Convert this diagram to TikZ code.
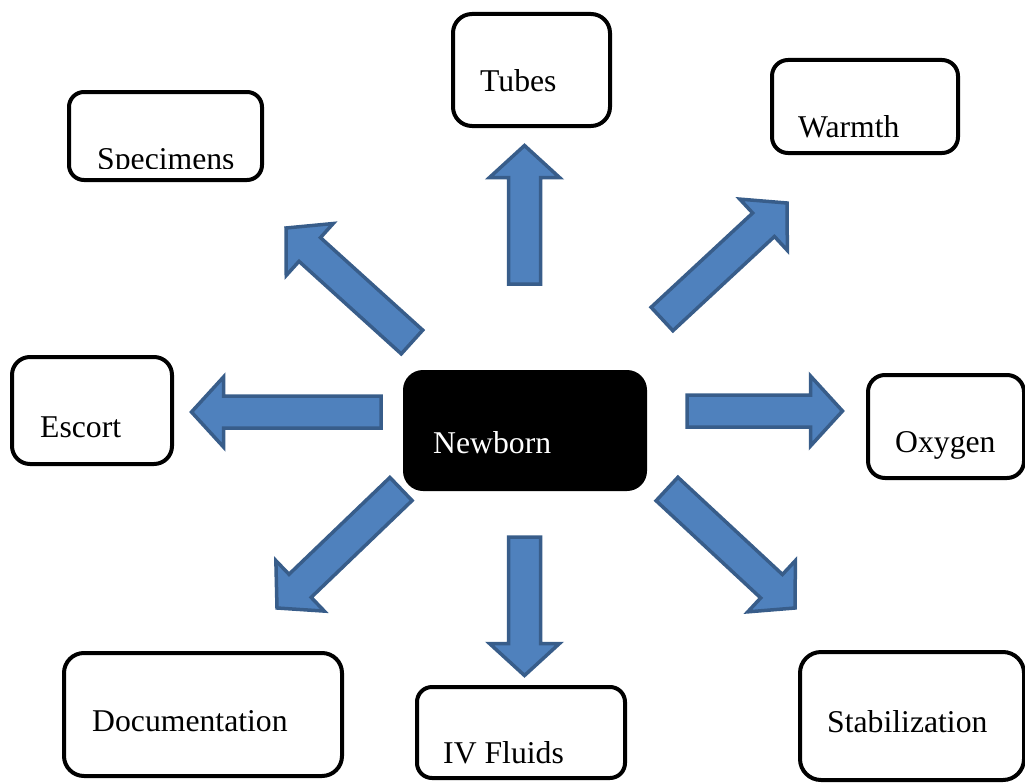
\documentclass[tikz,border=0pt]{standalone}
\usepackage{fontspec}
\setmainfont{Liberation Serif}
\usepackage{tikz}
\usetikzlibrary{calc}
\definecolor{arrowfill}{HTML}{4F81BD}
\definecolor{arrowline}{HTML}{385D8A}

% block arrow from tail #1 to tip #2
\newcommand{\blockarrow}[2]{%
  \coordinate (hb) at ($(#2)!32pt!(#1)$);
  \draw[bigarrow] ($(#1)!16pt!90:(#2)$) -- ($(hb)!16pt!90:(#2)$) -- ($(hb)!35pt!90:(#2)$) -- (#2)
    -- ($(hb)!35pt!-90:(#2)$) -- ($(hb)!16pt!-90:(#2)$) -- ($(#1)!16pt!-90:(#2)$) -- cycle;
}

\begin{document}
\begin{tikzpicture}[x=1pt,y=-1pt,
  every node/.style={font=\fontsize{31.7}{38}\selectfont},
  box/.style={draw,line width=4pt,rounded corners=17pt},
  word/.style={anchor=base west,inner sep=0pt},
  bigarrow/.style={fill=arrowfill,draw=arrowline,line width=3.5pt,line join=miter}]
  \useasboundingbox (0,0) rectangle (1025,784);
  \clip (0,0) rectangle (1025,784);

  % boxes
  \node[box,minimum width=157pt,minimum height=112pt,rounded corners=19pt] (tubes) at (531.5,70) {};
  \node[box,minimum width=186pt,minimum height=93pt,rounded corners=16pt] (warmth) at (865,106.5) {};
  \node[box,minimum width=193pt,minimum height=88pt,rounded corners=15pt] (specimens) at (165.5,136) {};
  \node[box,minimum width=160pt,minimum height=107pt,rounded corners=18pt] (escort) at (92,410.5) {};
  \node[box,minimum width=156pt,minimum height=103pt] (oxygen) at (946,426.5) {};
  \node[box,minimum width=278pt,minimum height=123pt,rounded corners=20pt] (docs) at (203,714.5) {};
  \node[box,minimum width=208pt,minimum height=91pt,rounded corners=15pt] (fluids) at (521,732.5) {};
  \node[box,minimum width=224pt,minimum height=128pt,rounded corners=21pt] (stab) at (912,716) {};
  \node[fill=black,minimum width=244pt,minimum height=121pt,rounded corners=20pt] (newborn) at (525,430.5) {};

  % labels
  \node[word] (tubesT) at (480,92) {Tubes};
  \node[word] (warmthT) at (798,137) {Warmth};
  \begin{scope}
    \clip (60,90) rectangle (270,168);
    \node[word] (specimensT) at (97,169) {Specimens};
  \end{scope}
  \node[word] (escortT) at (40,437) {Escort};
  \node[word] (oxygenT) at (895,452) {Oxygen};
  \node[word] (docsT) at (92,731) {Documentation};
  \node[word] (fluidsT) at (443,763) {IV Fluids};
  \node[word] (stabT) at (827,732) {Stabilization};
  \node[word,text=white] (newbornT) at (433,453) {Newborn};

  % arrow ends
  \coordinate (upS) at (524.5,284);   \coordinate (upE) at (524.5,145.5);
  \coordinate (downS) at (524.5,537); \coordinate (downE) at (524.5,675.5);
  \coordinate (leftS) at (381,412);   \coordinate (leftE) at (191.5,412);
  \coordinate (rightS) at (687,411);  \coordinate (rightE) at (842.5,411);
  \coordinate (ulS) at (412,342);     \coordinate (ulE) at (286,228);
  \coordinate (urS) at (662,319);     \coordinate (urE) at (787,203);
  \coordinate (dlS) at (401,489);     \coordinate (dlE) at (277,608);
  \coordinate (drS) at (667,489);     \coordinate (drE) at (795,608);

  \blockarrow{upS}{upE}
  \blockarrow{downS}{downE}
  \blockarrow{leftS}{leftE}
  \blockarrow{rightS}{rightE}
  \blockarrow{ulS}{ulE}
  \blockarrow{urS}{urE}
  \blockarrow{dlS}{dlE}
  \blockarrow{drS}{drE}
\end{tikzpicture}
\end{document}
